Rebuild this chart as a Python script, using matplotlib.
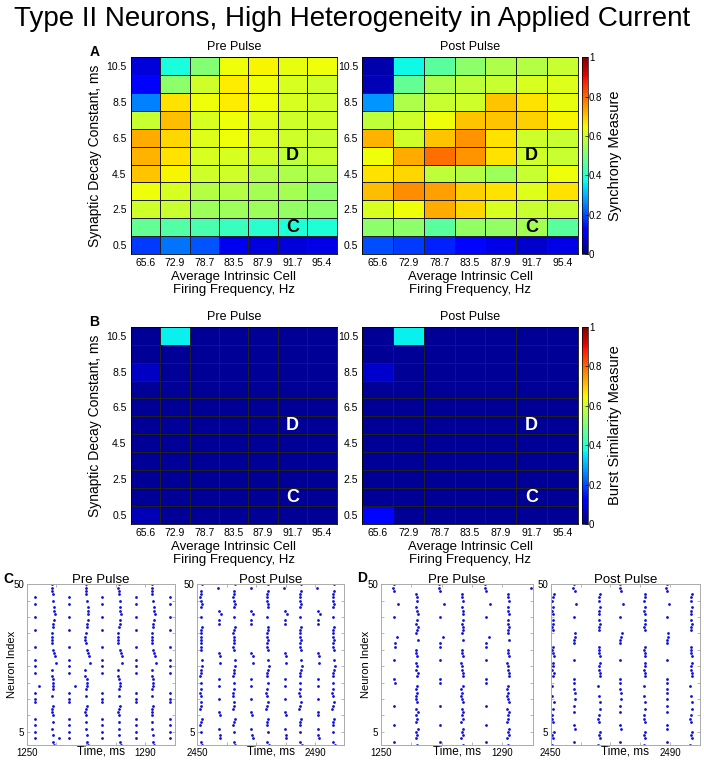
import numpy as np
import matplotlib.pyplot as plt
from matplotlib.ticker import FixedLocator, FixedFormatter

plt.rcParams['font.family'] = ['Liberation Sans', 'DejaVu Sans']

# frequency categories (x) and decay constants (y, bottom to top)
freqs = ['65.6', '72.9', '78.7', '83.5', '87.9', '91.7', '95.4']
decay = [0.5, 1.5, 2.5, 3.5, 4.5, 5.5, 6.5, 7.5, 8.5, 9.5, 10.5]

# synchrony measure, rows listed from 10.5 (top) down to 0.5 (bottom)
sync_pre = [
    [0.08, 0.38, 0.51, 0.64, 0.65, 0.63, 0.64],
    [0.11, 0.52, 0.60, 0.66, 0.64, 0.61, 0.60],
    [0.25, 0.67, 0.64, 0.66, 0.64, 0.61, 0.60],
    [0.59, 0.71, 0.61, 0.64, 0.62, 0.60, 0.60],
    [0.73, 0.68, 0.62, 0.64, 0.62, 0.60, 0.59],
    [0.72, 0.67, 0.61, 0.61, 0.60, 0.58, 0.59],
    [0.70, 0.65, 0.60, 0.60, 0.57, 0.56, 0.56],
    [0.64, 0.61, 0.57, 0.57, 0.55, 0.55, 0.52],
    [0.60, 0.59, 0.54, 0.54, 0.54, 0.53, 0.52],
    [0.47, 0.45, 0.44, 0.42, 0.40, 0.39, 0.39],
    [0.18, 0.24, 0.21, 0.10, 0.085, 0.08, 0.09],
]
sync_post = [
    [0.04, 0.37, 0.46, 0.52, 0.56, 0.57, 0.59],
    [0.05, 0.47, 0.56, 0.58, 0.59, 0.61, 0.62],
    [0.27, 0.56, 0.59, 0.60, 0.70, 0.67, 0.63],
    [0.58, 0.60, 0.64, 0.70, 0.70, 0.69, 0.65],
    [0.72, 0.60, 0.70, 0.75, 0.67, 0.60, 0.59],
    [0.64, 0.73, 0.79, 0.75, 0.67, 0.60, 0.59],
    [0.67, 0.68, 0.58, 0.57, 0.54, 0.59, 0.64],
    [0.71, 0.76, 0.74, 0.69, 0.67, 0.62, 0.67],
    [0.61, 0.64, 0.73, 0.68, 0.61, 0.59, 0.59],
    [0.52, 0.52, 0.46, 0.53, 0.53, 0.55, 0.46],
    [0.20, 0.18, 0.16, 0.13, 0.09, 0.07, 0.09],
]
# burst similarity measure, same row order
burst_pre = [
    [0.02, 0.36, 0.02, 0.02, 0.02, 0.02, 0.02],
    [0.02, 0.02, 0.02, 0.02, 0.02, 0.02, 0.02],
    [0.06, 0.02, 0.02, 0.02, 0.02, 0.02, 0.02],
    [0.02, 0.02, 0.02, 0.02, 0.02, 0.02, 0.02],
    [0.02, 0.02, 0.02, 0.02, 0.02, 0.02, 0.02],
    [0.02, 0.02, 0.02, 0.02, 0.02, 0.02, 0.02],
    [0.02, 0.02, 0.02, 0.02, 0.02, 0.02, 0.02],
    [0.02, 0.02, 0.02, 0.02, 0.02, 0.02, 0.02],
    [0.02, 0.02, 0.02, 0.02, 0.02, 0.02, 0.02],
    [0.02, 0.02, 0.02, 0.02, 0.02, 0.02, 0.02],
    [0.05, 0.02, 0.02, 0.02, 0.02, 0.02, 0.02],
]
burst_post = [
    [0.02, 0.36, 0.02, 0.02, 0.02, 0.02, 0.02],
    [0.02, 0.02, 0.02, 0.02, 0.02, 0.02, 0.02],
    [0.07, 0.02, 0.02, 0.02, 0.02, 0.02, 0.02],
    [0.02, 0.02, 0.02, 0.02, 0.02, 0.02, 0.02],
    [0.02, 0.02, 0.02, 0.02, 0.02, 0.02, 0.02],
    [0.02, 0.02, 0.02, 0.02, 0.02, 0.02, 0.02],
    [0.02, 0.02, 0.02, 0.02, 0.02, 0.02, 0.02],
    [0.02, 0.02, 0.02, 0.02, 0.02, 0.02, 0.02],
    [0.02, 0.02, 0.02, 0.02, 0.02, 0.02, 0.02],
    [0.02, 0.02, 0.02, 0.02, 0.02, 0.02, 0.02],
    [0.13, 0.02, 0.02, 0.02, 0.02, 0.02, 0.02],
]

# raster data: two sub-populations (A/B), burst times of each, per-neuron shift (ms)
# group strings and shifts are for neurons 1..50
c_pre_bursts = {'A': [1252.8, 1264.2, 1275.5, 1286.7, 1298.2],
                'B': [1258.6, 1270.0, 1281.0, 1292.3]}
c_pre_group = "BBABABABAB" "BBBAABABBB" "BBABABABBB" "ABBBBABBBA" "BBBABABBBB"
c_pre_shift = [0.7, 0.4, 0.0, 0.2, 0.0, 0.0, 0.0, 0.1, 0.0, 0.1,
               -0.2, 0.0, 0.3, 0.0, 0.0, 0.0, 0.0, 0.1, 0.3, 0.4,
               0.2, -0.2, 0.0, -0.2, 0.0, 1.2, 0.0, 1.0, 0.7, 0.4,
               0.0, -0.1, -0.2, -0.2, -0.1, 0.0, 0.2, 0.4, 0.6, 0.0,
               0.8, 0.6, 0.5, 0.0, 0.3, 0.0, 0.1, 0.0, -0.1, 0.0]
c_pre_extra = [(1254.3, 19), (1266.2, 19), (1261.0, 3)]

c_post_bursts = {'A': [2457.3, 2468.3, 2479.7, 2490.9],
                 'B': [2451.2, 2462.4, 2473.8, 2485.0, 2496.2]}
c_post_group = "BBAABABBBA" "ABBBABBBAB" "ABBBBABAAB" "BBBBBBBAAB" "AABBBBBBAB"
c_post_shift = [0.5, 0.0, 0.5, 0.3, 0.1, 0.0, -0.2, 0.0, 0.3, 0.3,
                0.0, -0.3, 0.0, 0.2, 0.0, -0.1, -0.3, 0.0, 0.0, 0.1,
                0.0, -0.2, 0.0, 0.2, 0.5, 0.5, 0.3, 0.5, 0.0, 0.2,
                -0.1, 0.0, 0.2, 0.0, -0.1, 0.1, 0.3, 0.0, 0.0, 0.0,
                0.8, 0.0, 0.1, 0.3, 0.0, -0.2, 0.0, 0.2, -0.2, 0.3]
c_post_extra = []

d_pre_bursts = {'A': [1254.4, 1269.5, 1284.6],
                'B': [1261.7, 1276.7, 1291.8]}
d_pre_group = "BABBBBABBB" "BBABBBBBBA" "ABBBBBABBB" "AABABBBBBA" "BBBABBBAAA"
d_pre_shift = [0.2, 0.0, -0.3, 0.3, 0.0, 0.4, 0.0, -0.2, 0.2, 0.0,
               0.4, -0.1, 0.0, 0.3, 0.0, -0.3, 0.1, -0.2, 0.2, 0.1,
               0.0, 0.3, 0.4, 0.0, 0.1, -0.2, 0.0, 0.3, 0.0, 0.0,
               0.1, 0.1, 0.5, 0.9, 0.0, 0.2, 0.4, 0.0, 0.2, 0.0,
               0.5, 0.2, 0.0, 1.3, 0.3, 0.1, 0.0, 0.0, -0.3, -0.2]
d_pre_extra = [(1299.6, 49)]

d_post_bursts = {'A': [2457.8, 2473.3, 2488.9],
                 'B': [2450.6, 2466.1, 2481.4, 2497.0]}
d_post_group = "BABBBAABBB" "ABABABAABA" "ABBBBBABBB" "BAAAABBBBA" "BBBABBBAAA"
d_post_shift = [-0.2, 0.0, 0.3, 0.0, 0.4, 0.2, 0.0, 0.2, -0.2, 0.0,
                0.0, 0.3, 0.0, 0.4, 0.2, 0.0, 0.2, 0.0, -0.1, 0.0,
                0.0, 0.3, 0.4, 0.0, 0.2, 0.3, 0.0, 0.4, 0.2, 0.0,
                0.1, 0.0, 0.0, 0.3, 0.5, 0.2, 0.0, 0.3, 0.1, 0.0,
                0.2, 0.0, 0.3, 0.8, 0.0, 0.2, 0.4, 0.2, -0.2, 0.0]
d_post_extra = []

W, H = 704, 761
fig = plt.figure(figsize=(W / 100, H / 100), dpi=100)


def box(x0, y0, x1, y1):
    # pixel box (top-left origin) -> figure fraction rect
    return [x0 / W, 1 - y1 / H, (x1 - x0) / W, (y1 - y0) / H]


fig.text(352 / W, 1 - 19 / H, 'Type II Neurons, High Heterogeneity in Applied Current',
         ha='center', va='center', fontsize=20)

xe = np.arange(len(freqs) + 1)
ye = np.arange(len(decay) + 1)


def heat(rect, data, title, letter_color, ylabel):
    ax = fig.add_axes(rect)
    z = np.array(data)[::-1]
    m = ax.pcolormesh(xe, ye, z, cmap='jet', vmin=0, vmax=1,
                      edgecolors='#202020', linewidth=0.5)
    ax.set_xlim(0, len(freqs))
    ax.set_ylim(0, len(decay))
    ax.set_xticks(xe[:-1] + 0.5)
    ax.set_xticklabels(freqs, fontsize=7.5)
    yt = [d for d in decay if d in (0.5, 2.5, 4.5, 6.5, 8.5, 10.5)]
    ax.set_yticks(yt)
    ax.set_yticklabels([str(d) for d in yt], fontsize=7.5)
    ax.tick_params(length=0, pad=3)
    ax.set_title(title, fontsize=9, pad=5)
    ax.set_xlabel('Average Intrinsic Cell\nFiring Frequency, Hz', fontsize=9.5, labelpad=2,
                  linespacing=1.15)
    if ylabel:
        ax.set_ylabel('Synaptic Decay Constant, ms', fontsize=10, labelpad=3)
    ax.text(5.5, 5.5, 'D', ha='center', va='center', fontsize=13, fontweight='bold',
            color=letter_color)
    ax.text(5.5, 1.5, 'C', ha='center', va='center', fontsize=13, fontweight='bold',
            color=letter_color)
    for s in ax.spines.values():
        s.set_linewidth(0.6)
    return m


def cbar(rect, mesh, label):
    cax = fig.add_axes(rect)
    cb = fig.colorbar(mesh, cax=cax)
    cb.set_ticks([0, 0.2, 0.4, 0.6, 0.8, 1])
    cb.set_ticklabels(['0', '0.2', '0.4', '0.6', '0.8', '1'])
    cb.ax.tick_params(labelsize=7, length=2, width=0.5, pad=1, direction='in')
    cb.outline.set_linewidth(0.5)
    cb.set_label(label, fontsize=10.5, labelpad=4)


m = heat(box(130.7, 57.3, 336.7, 254), sync_pre, 'Pre Pulse', 'black', True)
m = heat(box(362.3, 57.3, 577.7, 254), sync_post, 'Post Pulse', 'black', False)
cbar(box(582.3, 57.3, 587.5, 254), m, 'Synchrony Measure')

m = heat(box(130.7, 326.7, 336.7, 524), burst_pre, 'Pre Pulse', 'white', True)
m = heat(box(362.3, 326.7, 577.7, 524), burst_post, 'Post Pulse', 'white', False)
cbar(box(582.3, 326.7, 587.5, 524), m, 'Burst Similarity Measure')

fig.text(95 / W, 1 - 52 / H, 'A', fontsize=10, fontweight='bold', ha='center', va='center')
fig.text(94 / W, 1 - 322 / H, 'B', fontsize=10, fontweight='bold', ha='center', va='center')


def raster(rect, t0, bursts, group, shift, extra, title, ylabel):
    ax = fig.add_axes(rect)
    for i in range(50):
        t = np.array(bursts[group[i]]) + shift[i]
        ax.plot(t, np.full(len(t), i + 1), 'o', ms=2.0, mew=0, color='#1010d8')
    if extra:
        ex = np.array(extra)
        ax.plot(ex[:, 0], ex[:, 1], 'o', ms=2.0, mew=0, color='#1010d8')
    ax.set_xlim(t0, t0 + 50)
    ax.set_ylim(1, 50)
    xt = [t0 + 10 * k for k in range(6)]
    ax.xaxis.set_major_locator(FixedLocator(xt))
    ax.xaxis.set_major_formatter(FixedFormatter([str(t0), '', '', '', str(t0 + 40), '']))
    yt = list(range(5, 51, 5))
    ax.yaxis.set_major_locator(FixedLocator(yt))
    ax.yaxis.set_major_formatter(FixedFormatter(['5'] + [''] * 8 + ['50']))
    ax.tick_params(labelsize=7, length=2, width=0.5, direction='in', color='#999999',
                   top=True, right=True, pad=2)
    for s in ax.spines.values():
        s.set_color('#aaaaaa')
        s.set_linewidth(0.7)
    ax.set_title(title, fontsize=9.5, pad=1)
    ax.set_xlabel('Time, ms', fontsize=8.5, labelpad=-9)
    if ylabel:
        ax.set_ylabel('Neuron Index', fontsize=8)
        ax.yaxis.set_label_coords(-0.065, 0.5)


raster(box(26.7, 584.3, 175, 745), 1250, c_pre_bursts, c_pre_group, c_pre_shift,
       c_pre_extra, 'Pre Pulse', True)
raster(box(197.3, 584.3, 344.3, 745), 2450, c_post_bursts, c_post_group, c_post_shift,
       c_post_extra, 'Post Pulse', False)
raster(box(381, 584.3, 532.5, 745), 1250, d_pre_bursts, d_pre_group, d_pre_shift,
       d_pre_extra, 'Pre Pulse', True)
raster(box(550.7, 584.3, 699.7, 745), 2450, d_post_bursts, d_post_group, d_post_shift,
       d_post_extra, 'Post Pulse', False)

fig.text(8 / W, 1 - 579 / H, 'C', fontsize=10, fontweight='bold', ha='center', va='center')
fig.text(362 / W, 1 - 578 / H, 'D', fontsize=10, fontweight='bold', ha='center', va='center')

fig.savefig('out.png', dpi=100)
